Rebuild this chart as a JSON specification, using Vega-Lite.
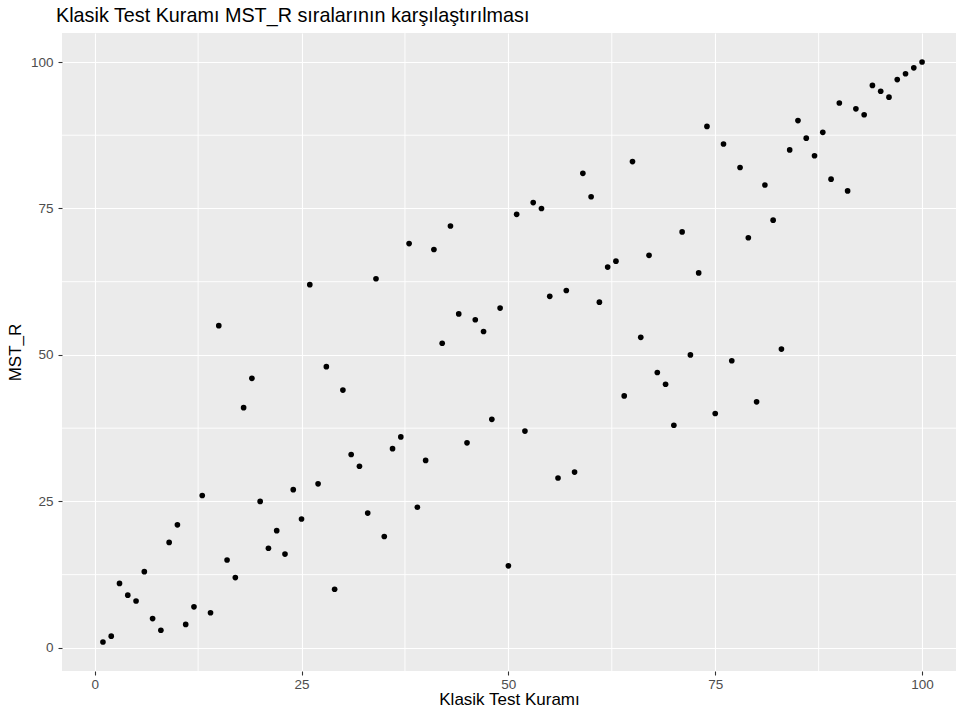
{
  "$schema": "https://vega.github.io/schema/vega-lite/v6.json",
  "autosize": {"type": "none"},
  "width": 894,
  "height": 638,
  "padding": {"left": 62, "top": 33, "right": 0, "bottom": 54},
  "background": "white",
  "config": {
    "font": "Liberation Sans",
    "view": {"fill": "#EBEBEB", "stroke": null},
    "axis": {
      "grid": true,
      "gridColor": "white",
      "gridWidth": 1.1,
      "domain": false,
      "tickColor": "#333333",
      "tickSize": 4,
      "tickWidth": 1.1,
      "labelColor": "#4D4D4D",
      "labelFontSize": 13.5,
      "labelFont": "Liberation Sans",
      "titleFont": "Liberation Sans",
      "titleFontSize": 17,
      "titleFontWeight": "normal",
      "titleColor": "black"
    },
    "title": {
      "font": "Liberation Sans",
      "fontSize": 19.8,
      "fontWeight": "normal",
      "color": "black",
      "anchor": "start",
      "frame": "group",
      "dx": -6,
      "offset": 7
    }
  },
  "title": "Klasik Test Kuramı MST_R sıralarının karşılaştırılması",
  "datasets": {
    "ranks": [
      {"ktk": 1, "mst": 1}, {"ktk": 2, "mst": 2}, {"ktk": 3, "mst": 11}, {"ktk": 4, "mst": 9},
      {"ktk": 5, "mst": 8}, {"ktk": 6, "mst": 13}, {"ktk": 7, "mst": 5}, {"ktk": 8, "mst": 3},
      {"ktk": 9, "mst": 18}, {"ktk": 10, "mst": 21}, {"ktk": 11, "mst": 4}, {"ktk": 12, "mst": 7},
      {"ktk": 13, "mst": 26}, {"ktk": 14, "mst": 6}, {"ktk": 15, "mst": 55}, {"ktk": 16, "mst": 15},
      {"ktk": 17, "mst": 12}, {"ktk": 18, "mst": 41}, {"ktk": 19, "mst": 46}, {"ktk": 20, "mst": 25},
      {"ktk": 21, "mst": 17}, {"ktk": 22, "mst": 20}, {"ktk": 23, "mst": 16}, {"ktk": 24, "mst": 27},
      {"ktk": 25, "mst": 22}, {"ktk": 26, "mst": 62}, {"ktk": 27, "mst": 28}, {"ktk": 28, "mst": 48},
      {"ktk": 29, "mst": 10}, {"ktk": 30, "mst": 44}, {"ktk": 31, "mst": 33}, {"ktk": 32, "mst": 31},
      {"ktk": 33, "mst": 23}, {"ktk": 34, "mst": 63}, {"ktk": 35, "mst": 19}, {"ktk": 36, "mst": 34},
      {"ktk": 37, "mst": 36}, {"ktk": 38, "mst": 69}, {"ktk": 39, "mst": 24}, {"ktk": 40, "mst": 32},
      {"ktk": 41, "mst": 68}, {"ktk": 42, "mst": 52}, {"ktk": 43, "mst": 72}, {"ktk": 44, "mst": 57},
      {"ktk": 45, "mst": 35}, {"ktk": 46, "mst": 56}, {"ktk": 47, "mst": 54}, {"ktk": 48, "mst": 39},
      {"ktk": 49, "mst": 58}, {"ktk": 50, "mst": 14}, {"ktk": 51, "mst": 74}, {"ktk": 52, "mst": 37},
      {"ktk": 53, "mst": 76}, {"ktk": 54, "mst": 75}, {"ktk": 55, "mst": 60}, {"ktk": 56, "mst": 29},
      {"ktk": 57, "mst": 61}, {"ktk": 58, "mst": 30}, {"ktk": 59, "mst": 81}, {"ktk": 60, "mst": 77},
      {"ktk": 61, "mst": 59}, {"ktk": 62, "mst": 65}, {"ktk": 63, "mst": 66}, {"ktk": 64, "mst": 43},
      {"ktk": 65, "mst": 83}, {"ktk": 66, "mst": 53}, {"ktk": 67, "mst": 67}, {"ktk": 68, "mst": 47},
      {"ktk": 69, "mst": 45}, {"ktk": 70, "mst": 38}, {"ktk": 71, "mst": 71}, {"ktk": 72, "mst": 50},
      {"ktk": 73, "mst": 64}, {"ktk": 74, "mst": 89}, {"ktk": 75, "mst": 40}, {"ktk": 76, "mst": 86},
      {"ktk": 77, "mst": 49}, {"ktk": 78, "mst": 82}, {"ktk": 79, "mst": 70}, {"ktk": 80, "mst": 42},
      {"ktk": 81, "mst": 79}, {"ktk": 82, "mst": 73}, {"ktk": 83, "mst": 51}, {"ktk": 84, "mst": 85},
      {"ktk": 85, "mst": 90}, {"ktk": 86, "mst": 87}, {"ktk": 87, "mst": 84}, {"ktk": 88, "mst": 88},
      {"ktk": 89, "mst": 80}, {"ktk": 90, "mst": 93}, {"ktk": 91, "mst": 78}, {"ktk": 92, "mst": 92},
      {"ktk": 93, "mst": 91}, {"ktk": 94, "mst": 96}, {"ktk": 95, "mst": 95}, {"ktk": 96, "mst": 94},
      {"ktk": 97, "mst": 97}, {"ktk": 98, "mst": 98}, {"ktk": 99, "mst": 99}, {"ktk": 100, "mst": 100}
    ],
    "minor": [{"v": 12.5}, {"v": 37.5}, {"v": 62.5}, {"v": 87.5}]
  },
  "layer": [
    {
      "data": {"name": "minor"},
      "mark": {"type": "rule", "color": "#FFFFFF", "strokeWidth": 0.9},
      "encoding": {
        "x": {"field": "v", "type": "quantitative"}
      }
    },
    {
      "data": {"name": "minor"},
      "mark": {"type": "rule", "color": "#FFFFFF", "strokeWidth": 0.9},
      "encoding": {
        "y": {"field": "v", "type": "quantitative"}
      }
    },
    {
      "data": {"name": "ranks"},
      "mark": {"type": "circle", "color": "black", "opacity": 1, "size": 32},
      "encoding": {
        "x": {
          "field": "ktk",
          "type": "quantitative",
          "title": "Klasik Test Kuramı",
          "scale": {"domain": [-3.95, 104.1], "nice": false, "zero": false},
          "axis": {"values": [0, 25, 50, 75, 100], "labelPadding": 2, "titlePadding": 1}
        },
        "y": {
          "field": "mst",
          "type": "quantitative",
          "title": "MST_R",
          "scale": {"domain": [-3.95, 104.95], "nice": false, "zero": false},
          "axis": {"values": [0, 25, 50, 75, 100], "labelPadding": 5, "titlePadding": 6}
        }
      }
    }
  ]
}
